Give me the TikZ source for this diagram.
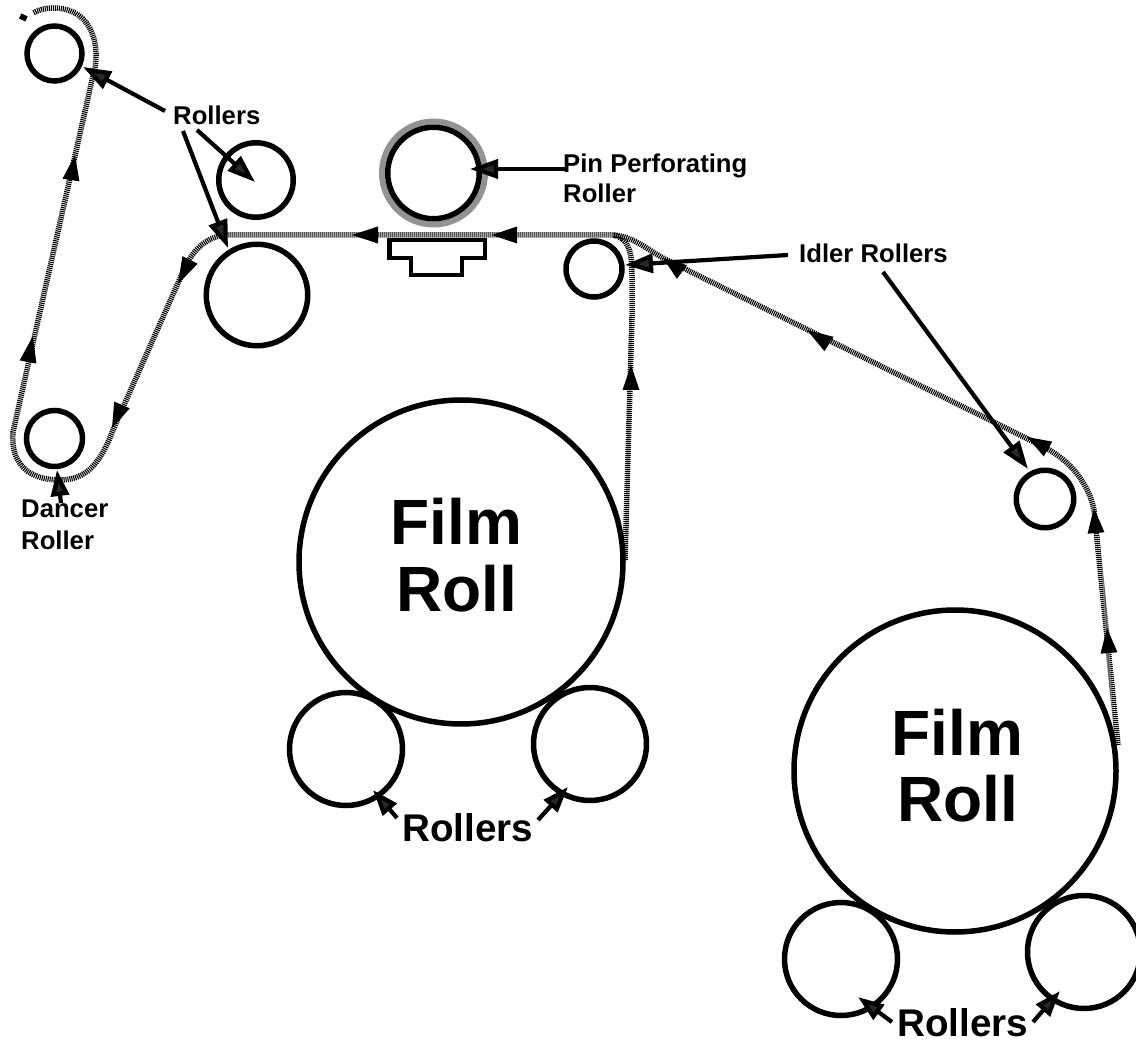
\documentclass[tikz,border=0pt]{standalone}
\usepackage{fontspec}
\setmainfont{Liberation Sans}
\usetikzlibrary{arrows.meta,calc}
\definecolor{headgray}{HTML}{2B2627}
\tikzset{
  x=1pt,y=-1pt,
  roller/.style={circle,draw=black,line width=5.5pt,inner sep=0pt,outer sep=0pt,fill=none},
  film/.style={line width=5.5pt,draw=black,dash pattern=on 1.1pt off 0.9pt},
  plate/.style={line width=4.5pt,draw=black,miter limit=10},
  pointer/.style={line width=4.2pt,draw=black,-{Triangle[length=28pt,width=19pt,fill=headgray]}},
  smallpointer/.style={line width=4.2pt,draw=black,-{Triangle[length=26pt,width=18pt,fill=headgray]}},
  lab/.style={font=\bfseries\fontsize{25.7pt}{30pt}\selectfont,anchor=base west,inner sep=0pt},
  biglab/.style={font=\bfseries\fontsize{38.6pt}{44pt}\selectfont,anchor=base west,inner sep=0pt},
  hugelab/.style={font=\bfseries\fontsize{64pt}{70pt}\selectfont,anchor=base,inner sep=0pt},
}
\newcommand{\fhead}[2]{\fill[black] (#2) -- ($(#1)!8.5pt!90:(#2)$) -- ($(#1)!8.5pt!-90:(#2)$) -- cycle;}
\begin{document}
\begin{tikzpicture}
\useasboundingbox (0,0) rectangle (1136,1040);
\clip (0,0) rectangle (1136,1040);
% film paths
\coordinate (ps) at (33,13);
\coordinate (pe) at (1118,745);
\coordinate (ps2) at (625,560);
\coordinate (junction) at (613,235);
\draw[film] (pe) -- (1094,510) .. controls (1089,485) and (1072,462) .. (1046,448)
  -- (663,258) .. controls (645,248) and (632,236) .. (junction)
  -- (227,235) .. controls (208,236) and (195,248) .. (186,265)
  -- (113,430) .. controls (100,465) and (85,480) .. (60,480)
  .. controls (30,480) and (10,465) .. (13,432)
  -- (92,80) .. controls (102,50) and (95,8) .. (53,8)
  .. controls (45,8) and (38,10) .. (ps);
\draw[film] (ps2) -- (632,317) -- (632,275) .. controls (632,250) and (628,238) .. (junction);
\fill[black,rotate around={-25:(23,17)}] (20,14.5) rectangle (27,20);
% rollers
\node[circle,draw=gray!85,line width=6pt,minimum size=103pt,inner sep=0pt] at (433.5,173) {};
\node[roller,minimum size=91.5pt] (pin) at (433.5,173) {};
\node[roller,minimum size=55pt] (r1) at (54.5,53.5) {};
\node[roller,minimum size=74.5pt] (r2) at (256,180) {};
\node[roller,minimum size=101.5pt] (r3) at (257,295) {};
\node[roller,minimum size=56pt] (idl1) at (594,269) {};
\node[roller,minimum size=57.5pt] (idl2) at (1045,499) {};
\node[roller,minimum size=56pt] (dancer) at (54.5,438.5) {};
\node[roller,minimum size=324pt] (roll1) at (461,562) {};
\node[roller,minimum size=113pt] (a1) at (346,749) {};
\node[roller,minimum size=113pt] (a2) at (590,744) {};
\node[roller,minimum size=322pt] (roll2) at (955,771) {};
\node[roller,minimum size=113pt] (b1) at (841,959) {};
\node[roller,minimum size=113pt] (b2) at (1084,952) {};
% plate
\draw[plate] (389.5,240) -- (389.5,258) -- (411,258) -- (411,275) -- (462,275) -- (462,258) -- (485,258) -- (485,240) -- cycle;
% film direction heads
\coordinate (h1a) at (71,180); \coordinate (h1b) at (75,155); \fhead{h1a}{h1b}
\coordinate (h2a) at (28,362); \coordinate (h2b) at (33,336); \fhead{h2a}{h2b}
\coordinate (h3a) at (190,260); \coordinate (h3b) at (178,284); \fhead{h3a}{h3b}
\coordinate (h4a) at (122,405); \coordinate (h4b) at (112,428); \fhead{h4a}{h4b}
\coordinate (h5a) at (378,235); \coordinate (h5b) at (352,235); \fhead{h5a}{h5b}
\coordinate (h6a) at (517,235); \coordinate (h6b) at (492,235); \fhead{h6a}{h6b}
\coordinate (h7a) at (631,390); \coordinate (h7b) at (631,365); \fhead{h7a}{h7b}
\coordinate (h8a) at (682,272); \coordinate (h8b) at (663,258); \fhead{h8a}{h8b}
\coordinate (h9a) at (829,344); \coordinate (h9b) at (807,330); \fhead{h9a}{h9b}
\coordinate (h10a) at (1048,449); \coordinate (h10b) at (1027,437); \fhead{h10a}{h10b}
\coordinate (h11a) at (1096,533); \coordinate (h11b) at (1094,508); \fhead{h11a}{h11b}
\coordinate (h12a) at (1109,653); \coordinate (h12b) at (1107,628); \fhead{h12a}{h12b}
% labels
\node[lab] (lrollers) at (173,125) {Rollers};
\node[lab] (lpin) at (563,173) {Pin Perforating};
\node[lab] (lpin2) at (563,203) {Roller};
\node[lab] (lidler) at (799,263) {Idler Rollers};
\node[lab] (ldancer) at (21,518) {Dancer};
\node[lab] (ldancer2) at (21,550) {Roller};
\node[hugelab] (f1) at (456.5,544) {Film};
\node[hugelab] (f2) at (456.5,611) {Roll};
\node[hugelab] (f3) at (957.5,755) {Film};
\node[hugelab] (f4) at (957.5,821) {Roll};
\node[biglab] (la) at (402,841) {Rollers};
\node[biglab] (lb) at (897,1036) {Rollers};
% pointers
\coordinate (s1) at (165,111); \coordinate (t1) at (83,67);
\coordinate (s2) at (197,130); \coordinate (t2) at (255,182);
\coordinate (s3) at (183,131); \coordinate (t3) at (228,248);
\coordinate (s4) at (568,169); \coordinate (t4) at (470,169);
\coordinate (s5) at (788,255); \coordinate (t5) at (625,265);
\coordinate (s6) at (883,272); \coordinate (t6) at (1028,469);
\coordinate (s7) at (61,503); \coordinate (t7) at (57,470);
\coordinate (s8) at (397,818); \coordinate (t8) at (373,790);
\coordinate (s9) at (538,820); \coordinate (t9) at (568,787);
\coordinate (s10) at (892,1022); \coordinate (t10) at (858,997);
\coordinate (s11) at (1033,1022); \coordinate (t11) at (1060,991);
\draw[pointer] (s1) -- (t1);
\draw[pointer] (s2) -- (t2);
\draw[pointer] (s3) -- (t3);
\draw[pointer] (s4) -- (t4);
\draw[pointer] (s5) -- (t5);
\draw[pointer] (s6) -- (t6);
\draw[smallpointer] (s7) -- (t7);
\draw[smallpointer] (s8) -- (t8);
\draw[smallpointer] (s9) -- (t9);
\draw[smallpointer] (s10) -- (t10);
\draw[smallpointer] (s11) -- (t11);
\end{tikzpicture}
\end{document}
